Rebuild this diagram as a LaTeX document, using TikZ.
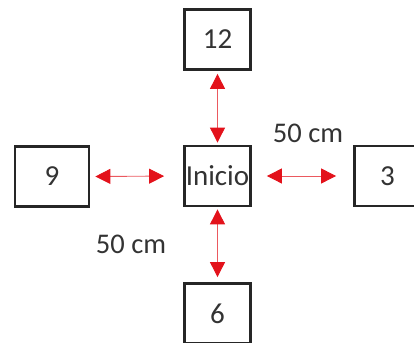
\documentclass[tikz,border=0pt]{standalone}
\usepackage{fontspec}
\setmainfont{Carlito}
\usetikzlibrary{arrows.meta}
\definecolor{boxline}{HTML}{262626}
\definecolor{arrowred}{HTML}{E3121B}
\definecolor{labeltext}{HTML}{333333}
\begin{document}
\begin{tikzpicture}[x=1pt,y=1pt,
  hour/.style={draw=boxline, line width=2.8pt, fill=white, inner sep=0pt,
    minimum width=66pt, minimum height=60pt, font=\fontsize{29}{32}\selectfont, text=labeltext},
  link/.style={draw=arrowred!70, line width=0.9pt,
    {Triangle[length=15pt,width=15pt,color=arrowred,fill=arrowred]}-{Triangle[length=15pt,width=15pt,color=arrowred,fill=arrowred]}},
  dist/.style={font=\fontsize{28.5}{32}\selectfont, text=labeltext, inner sep=0pt}]
  \useasboundingbox (0,0) rectangle (414,342);
  \begin{scope}
  \clip (0,0) rectangle (414,342);
  \node[hour] (start) at (217.5,166) {Inicio};
  \node[hour] (twelve) at (217.5,302.5) {12};
  \node[hour, minimum width=74pt] (nine) at (52,165.5) {9};
  \node[hour] (three) at (387.5,166) {3};
  \node[hour] (six) at (217.5,28.5) {6};

  \draw[link, shorten <=3pt, shorten >=2pt] (twelve.south) -- (start.north);
  \draw[link, shorten <=5pt, shorten >=19pt] (nine.east) -- (start.west);
  \draw[link, shorten <=15pt, shorten >=17pt] (start.east) -- (three.west);
  \draw[link, shorten <=2pt, shorten >=5pt] (start.south) -- (six.north);
  \end{scope}

  \node[dist] (labeleast) at (308,209) {50 cm};
  \node[dist] (labelsouth) at (131,98) {50 cm};
\end{tikzpicture}
\end{document}
